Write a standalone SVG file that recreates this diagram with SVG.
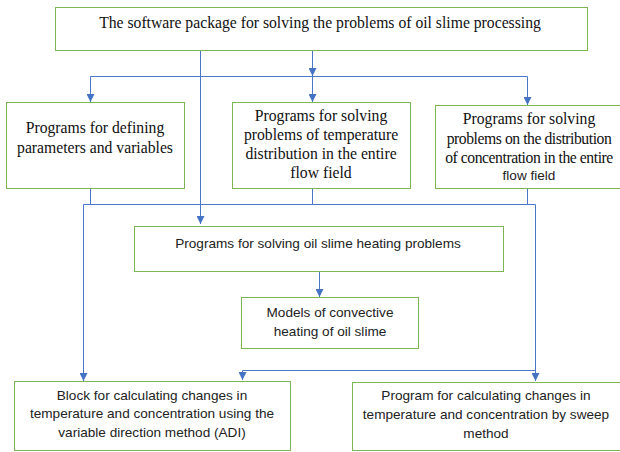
<svg xmlns="http://www.w3.org/2000/svg" width="620" height="452" viewBox="0 0 620 452">
<style>
.box{fill:#fff;stroke:#7DB553;stroke-width:1}
.ser{font-family:"Liberation Serif","Times New Roman",serif;font-size:15.7px;fill:#111;text-anchor:middle}
.tight{letter-spacing:-0.45px}
.sans{font-family:"Liberation Sans",Arial,sans-serif;font-size:13.6px;fill:#222;text-anchor:middle}
.ln{fill:none;stroke:#4A78C8;stroke-width:1}
</style>
<defs>
<marker id="ah" viewBox="0 0 8 8" refX="8" refY="4" markerWidth="8" markerHeight="8" markerUnits="userSpaceOnUse" orient="auto">
<path d="M0,0 L8,4 L0,8 Z" fill="#4472C4"/>
</marker>
</defs>
<rect width="620" height="452" fill="#fff"/>
<g id="connectors">
<path class="ln" d="M200.5,50 V224" marker-end="url(#ah)"/>
<path class="ln" d="M312.5,50 V76" marker-end="url(#ah)"/>
<path class="ln" d="M90.5,76.5 H527.5"/>
<path class="ln" d="M90.5,76.5 V102" marker-end="url(#ah)"/>
<path class="ln" d="M312.5,76.5 V102" marker-end="url(#ah)"/>
<path class="ln" d="M527.5,76.5 V105" marker-end="url(#ah)"/>
<path class="ln" d="M90.5,188 V204.5"/>
<path class="ln" d="M312.5,188 V204.5"/>
<path class="ln" d="M527.5,188 V204.5"/>
<path class="ln" d="M83.5,204.5 H535.5 V371"/>
<path class="ln" d="M83.5,204.5 V381" marker-end="url(#ah)"/>
<path class="ln" d="M535.5,370.5 V381" marker-end="url(#ah)"/>
<path class="ln" d="M535.5,370.5 H242.5 V380" marker-end="url(#ah)"/>
<path class="ln" d="M319.5,271 V297" stroke="#5B9BD5" marker-end="url(#ah)"/>
</g>
<g id="n-top">
<rect class="box" x="55.5" y="7.5" width="532" height="43"/>
<text class="ser" x="320" y="28">The software package for solving the problems of oil slime processing</text>
</g>
<g id="n-define">
<rect class="box" x="6.5" y="102.5" width="178" height="86"/>
<text class="ser" x="95" y="133">Programs for defining</text>
<text class="ser" x="95" y="153">parameters and variables</text>
</g>
<g id="n-temp">
<rect class="box" x="232.5" y="102.5" width="178" height="86"/>
<text class="ser" x="321" y="121">Programs for solving</text>
<text class="ser" x="321" y="140">problems  of temperature</text>
<text class="ser" x="321" y="159">distribution in the entire</text>
<text class="ser" x="321" y="178">flow field</text>
</g>
<g id="n-conc">
<rect class="box" x="435.5" y="105.5" width="188" height="83"/>
<text class="ser" x="529" y="124">Programs for solving</text>
<text class="ser tight" x="529" y="144">problems on the distribution</text>
<text class="ser tight" x="529" y="163">of concentration in the entire</text>
<text class="sans" x="529" y="180">flow field</text>
</g>
<g id="n-heat">
<rect class="box" x="134.5" y="226.5" width="369" height="45"/>
<text class="sans" x="318" y="248">Programs for solving oil slime heating problems</text>
</g>
<g id="n-models">
<rect class="box" x="241.5" y="297.5" width="177" height="51"/>
<text class="sans" x="330" y="317">Models of convective</text>
<text class="sans" x="330" y="336">heating of oil slime</text>
</g>
<g id="n-adi">
<rect class="box" x="14.5" y="381.5" width="276" height="69"/>
<text class="sans" x="152" y="400">Block for calculating changes in</text>
<text class="sans" x="152" y="418">temperature and concentration using the</text>
<text class="sans" x="152" y="437">variable direction method (ADI)</text>
</g>
<g id="n-sweep">
<rect class="box" x="352.5" y="382.5" width="272" height="68"/>
<text class="sans" x="486" y="400">Program for calculating changes in</text>
<text class="sans" x="486" y="419">temperature and concentration by sweep</text>
<text class="sans" x="486" y="438">method</text>
</g>
</svg>
